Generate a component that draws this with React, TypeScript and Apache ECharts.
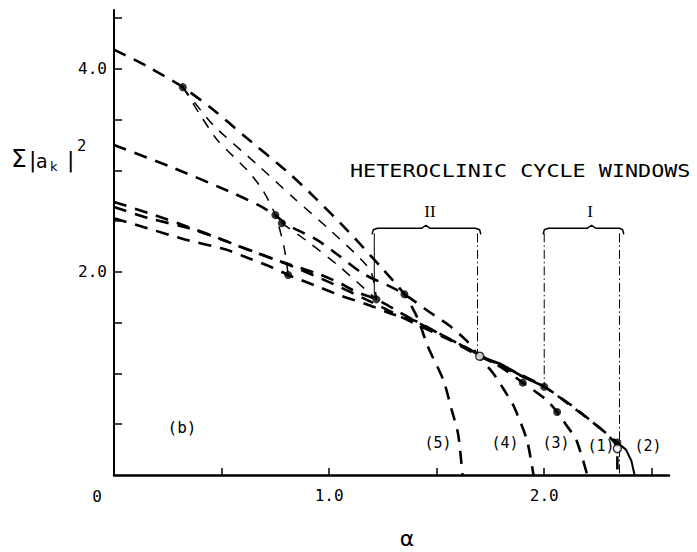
import React, { useEffect, useRef } from "react";
import * as echarts from "echarts";

// axis ticks & labels
const xTickValues = [0.5, 1, 1.5, 2, 2.5];
const xLabelValues = [1, 2];
const yTickValues = [0.5, 1, 1.5, 2, 2.5, 3, 3.5, 4, 4.5];
const yLabelValues = [2, 4];

// primary branches (heavy dashed)
const branch5 = [[0, 4.19], [0.15, 4.03], [0.32, 3.82], [0.46, 3.6], [0.6, 3.35], [0.82, 2.96], [0.93, 2.74], [1.08, 2.42], [1.24, 2.05], [1.35, 1.78], [1.41, 1.55], [1.46, 1.26], [1.53, 0.94], [1.57, 0.64], [1.6, 0.4], [1.62, 0]];
const branch4 = [[0, 3.25], [0.27, 3.03], [0.55, 2.78], [0.67, 2.66], [0.75, 2.56], [0.8, 2.47], [0.94, 2.32], [1.04, 2.17], [1.16, 1.98], [1.28, 1.86], [1.35, 1.78], [1.47, 1.6], [1.56, 1.47], [1.64, 1.32], [1.71, 1.13], [1.76, 1.01], [1.81, 0.85], [1.86, 0.67], [1.92, 0.34], [1.95, 0]];
const branch3 = [[0, 2.69], [0.16, 2.58], [0.35, 2.44], [0.49, 2.33], [0.62, 2.22], [0.78, 2.1], [0.95, 1.98], [1.04, 1.9], [1.13, 1.8], [1.22, 1.73], [1.33, 1.6], [1.45, 1.46], [1.57, 1.33], [1.7, 1.18], [1.8, 1.06], [1.9, 0.91], [2.01, 0.74], [2.06, 0.62], [2.1, 0.5], [2.15, 0.34], [2.2, 0]];
const branch1 = [[0, 2.64], [0.16, 2.53], [0.35, 2.43], [0.5, 2.32], [0.65, 2.2], [0.8, 2.08], [1.0, 1.9], [1.2, 1.7], [1.4, 1.49], [1.55, 1.34], [1.7, 1.17], [1.88, 0.99], [2.0, 0.87], [2.15, 0.64], [2.26, 0.46], [2.31, 0.36], [2.34, 0.27], [2.34, 0]];
const branch2 = [[0, 2.53], [0.14, 2.44], [0.33, 2.32], [0.52, 2.22], [0.62, 2.14], [0.74, 2.04], [0.81, 1.97], [0.93, 1.87], [1.05, 1.77], [1.19, 1.67], [1.3, 1.58], [1.41, 1.51], [1.52, 1.38], [1.66, 1.23], [1.7, 1.17], [1.8, 1.08], [1.9, 0.98], [2.0, 0.87], [2.13, 0.68], [2.26, 0.46], [2.34, 0.32]];
const branch2End = [[2.34, 0.32], [2.38, 0.25], [2.405, 0.14], [2.42, 0]];
const stableSegment = [[1.7, 1.17], [1.8, 1.09], [1.9, 0.97], [2.0, 0.87]];

// secondary branches (thin dashed)
const secondaryA = [[0.32, 3.82], [0.4, 3.55], [0.48, 3.3], [0.62, 3.0], [0.69, 2.81], [0.75, 2.56], [0.79, 2.25], [0.81, 1.97]];
const secondaryB = [[0.32, 3.82], [0.46, 3.45], [0.67, 3.05], [0.84, 2.72], [1.0, 2.42], [1.19, 2.02], [1.22, 1.73]];
const secondaryC = [[0.78, 2.48], [0.9, 2.3], [1.05, 2.05], [1.22, 1.73]];

// bifurcation points
const filledPoints = [[0.32, 3.82], [0.75, 2.56], [0.78, 2.48], [0.81, 1.97], [1.22, 1.73], [1.35, 1.78], [1.9, 0.91], [2.0, 0.87], [2.06, 0.62], [2.34, 0.32]];
const openPoints = [[1.7, 1.17], [2.34, 0.26]];

// heteroclinic windows
const windowIILeft = [[1.21, 2.38], [1.21, 1.75]];
const windowIIRight = [[1.69, 2.38], [1.69, 1.17]];
const windowILeft = [[2.0, 2.38], [2.0, 0.87]];
const windowIRight = [[2.35, 2.38], [2.35, 0]];
const bracketII = [[1.2, 2.37], [1.205, 2.415], [1.225, 2.43], [1.43, 2.43], [1.45, 2.46], [1.47, 2.43], [1.68, 2.43], [1.7, 2.415], [1.705, 2.37]];
const bracketI = [[1.995, 2.37], [2.0, 2.415], [2.02, 2.43], [2.2, 2.43], [2.22, 2.46], [2.24, 2.43], [2.35, 2.43], [2.365, 2.415], [2.37, 2.37]];

const MONO = "DejaVu Sans Mono";

function heavy(data: number[][]) {
  return {
    type: "line", data, showSymbol: false, smooth: 0.25, silent: true,
    lineStyle: { color: "#000", width: 2.6, type: [13, 9] },
  };
}
function thin(data: number[][]) {
  return {
    type: "line", data, showSymbol: false, smooth: 0.25, silent: true,
    lineStyle: { color: "#000", width: 1.5, type: [10, 9] },
  };
}
function solid(data: number[][], width: number, type: any = "solid") {
  return {
    type: "line", data, showSymbol: false, smooth: false, silent: true,
    lineStyle: { color: "#000", width, type },
  };
}

export default function App() {
  const ref = useRef<HTMLDivElement>(null);
  useEffect(() => {
    if (!ref.current) return;
    const chart = echarts.init(ref.current, null, { renderer: "svg" });
    const txt = (text: string, x: number, y: number, size: number) => ({
      type: "text", x, y,
      style: { text, fill: "#000", fontSize: size, fontFamily: MONO, align: "center", verticalAlign: "middle" },
    });
    chart.setOption({
      animation: false,
      backgroundColor: "#fff",
      grid: { left: 114, right: 28, top: 10, bottom: 77 },
      xAxis: {
        type: "value", min: 0, max: 2.58,
        axisLine: { show: true, lineStyle: { color: "#000", width: 2.5 } },
        axisTick: { show: true, inside: true, length: 7, customValues: xTickValues, lineStyle: { color: "#000", width: 1.5 } },
        axisLabel: { customValues: xLabelValues, formatter: (v: number) => v.toFixed(1), fontFamily: MONO, fontSize: 16, color: "#000", margin: 12 },
        splitLine: { show: false },
      },
      yAxis: {
        type: "value", min: 0, max: 4.58,
        axisLine: { show: true, lineStyle: { color: "#000", width: 2 } },
        axisTick: { show: true, inside: true, length: 8, customValues: yTickValues, lineStyle: { color: "#000", width: 1.5 } },
        axisLabel: { customValues: yLabelValues, formatter: (v: number) => v.toFixed(1), fontFamily: MONO, fontSize: 16, color: "#000", margin: 7 },
        splitLine: { show: false },
      },
      graphic: [
        { type: "text", x: 350, y: 171, scaleX: 1.28, style: { text: "HETEROCLINIC CYCLE WINDOWS", fill: "#000", fontSize: 17, fontFamily: MONO, align: "left", verticalAlign: "middle" } },
        { type: "text", x: 430, y: 211, style: { text: "II", fill: "#000", fontSize: 17, fontFamily: "Liberation Serif", align: "center", verticalAlign: "middle" } },
        { type: "text", x: 590, y: 211, style: { text: "I", fill: "#000", fontSize: 17, fontFamily: "Liberation Serif", align: "center", verticalAlign: "middle" } },
        txt("(b)", 182, 427, 16),
        txt("(5)", 438, 443, 15),
        txt("(4)", 505, 443, 15),
        txt("(3)", 556, 443, 15),
        txt("(1)", 601, 446, 15),
        txt("(2)", 648, 446, 15),
        txt("0", 97, 496, 16),
        { type: "text", x: 407, y: 538, style: { text: "α", fill: "#000", fontSize: 22, fontFamily: "DejaVu Sans", align: "center", verticalAlign: "middle" } },
        { type: "text", x: 11, y: 158, style: { text: "Σ", fill: "#000", fontSize: 25, fontFamily: "DejaVu Sans", align: "left", verticalAlign: "middle" } },
        { type: "text", x: 29, y: 159, style: { text: "|", fill: "#000", fontSize: 22, fontFamily: "DejaVu Sans", align: "left", verticalAlign: "middle" } },
        { type: "text", x: 36, y: 161, style: { text: "a", fill: "#000", fontSize: 19, fontFamily: "DejaVu Sans", align: "left", verticalAlign: "middle" } },
        { type: "text", x: 50, y: 166, style: { text: "k", fill: "#000", fontSize: 13, fontFamily: "DejaVu Sans", align: "left", verticalAlign: "middle" } },
        { type: "text", x: 67, y: 159, style: { text: "|", fill: "#000", fontSize: 22, fontFamily: "DejaVu Sans", align: "left", verticalAlign: "middle" } },
        { type: "text", x: 77, y: 146, style: { text: "2", fill: "#000", fontSize: 15, fontFamily: "DejaVu Sans", align: "left", verticalAlign: "middle" } },
      ],
      series: [
        heavy(branch5),
        heavy(branch4),
        heavy(branch3),
        heavy(branch1),
        heavy(branch2),
        thin(secondaryA),
        thin(secondaryB),
        thin(secondaryC),
        solid(branch2End, 2),
        solid(stableSegment, 2.6),
        solid(windowIILeft, 1),
        solid(windowIIRight, 1, [9, 3, 1.5, 3]),
        solid(windowILeft, 1, [9, 3, 1.5, 3]),
        solid(windowIRight, 1, [9, 3, 1.5, 3]),
        solid(bracketII, 1.5),
        solid(bracketI, 1.5),
        {
          type: "scatter", data: filledPoints, symbolSize: 8, silent: true, z: 5,
          itemStyle: { color: "#000" },
        },
        {
          type: "scatter", data: openPoints, symbolSize: 8, silent: true, z: 5,
          itemStyle: { color: "#fff", borderColor: "#000", borderWidth: 1.5 },
        },
      ],
    });
    return () => chart.dispose();
  }, []);
  return <div ref={ref} style={{ width: 697, height: 552, position: "absolute", left: 0, top: 0 }} />;
}
